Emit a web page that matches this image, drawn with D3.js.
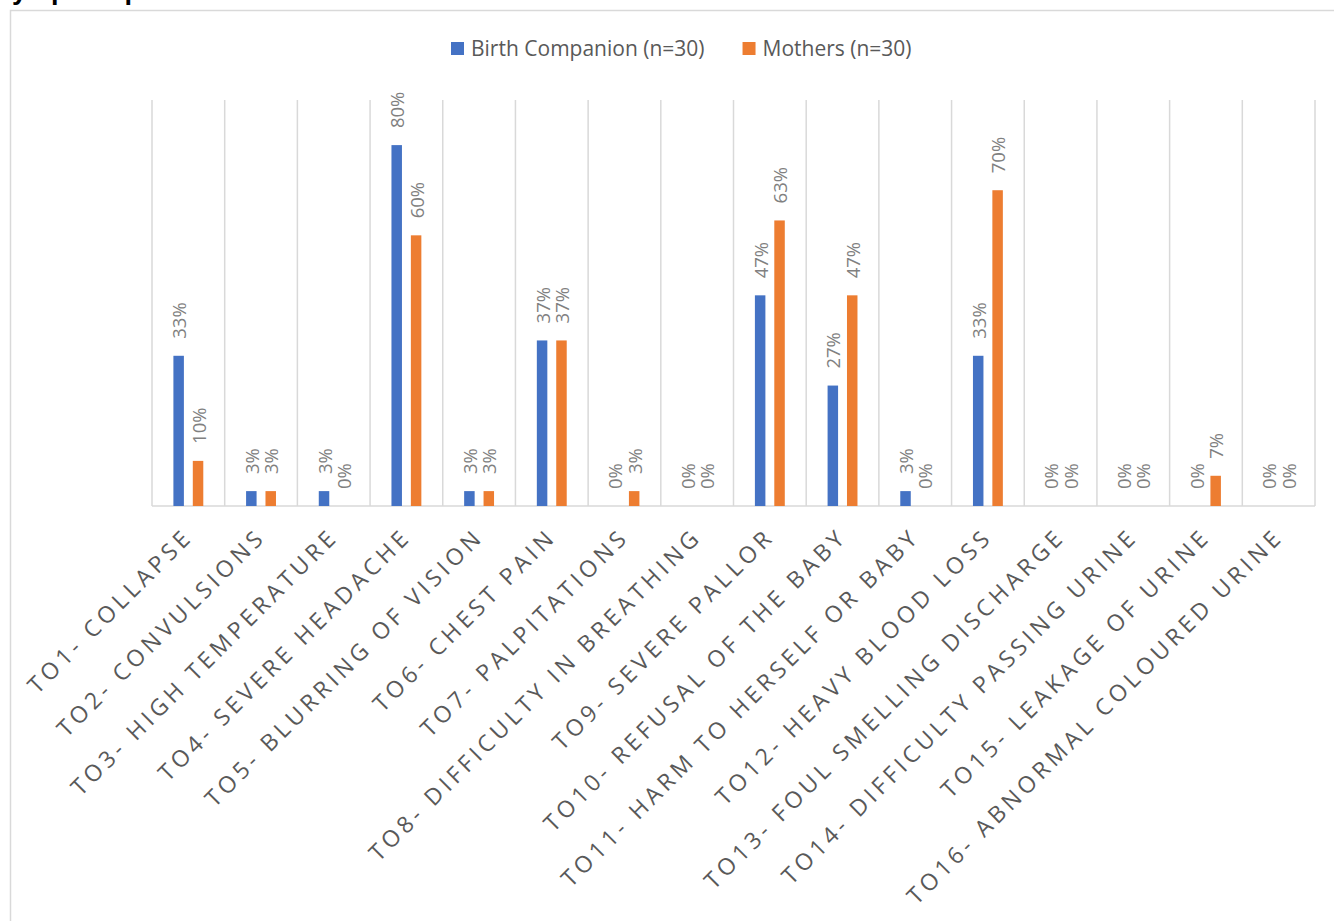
<!DOCTYPE html>
<html>
<head>
<meta charset="utf-8">
<script src="https://cdn.jsdelivr.net/npm/d3@7"></script>
<style>
  html, body { margin: 0; padding: 0; background: #fff; }
  svg { display: block; }
</style>
</head>
<body>
<svg id="chart" width="1334" height="921"></svg>
<script>
const categories = [
  "TO1- COLLAPSE",
  "TO2- CONVULSIONS",
  "TO3- HIGH TEMPERATURE",
  "TO4- SEVERE HEADACHE",
  "TO5- BLURRING OF VISION",
  "TO6- CHEST PAIN",
  "TO7- PALPITATIONS",
  "TO8- DIFFICULTY IN BREATHING",
  "TO9- SEVERE PALLOR",
  "TO10- REFUSAL OF THE BABY",
  "TO11- HARM TO HERSELF OR BABY",
  "TO12- HEAVY BLOOD LOSS",
  "TO13- FOUL SMELLING DISCHARGE",
  "TO14- DIFFICULTY PASSING URINE",
  "TO15- LEAKAGE OF URINE",
  "TO16- ABNORMAL COLOURED URINE"
];
const seriesNames = ["Birth Companion (n=30)", "Mothers (n=30)"];
const birthCompanion = [33.3, 3.3, 3.3, 80, 3.3, 36.7, 0, 0, 46.7, 26.7, 3.3, 33.3, 0, 0, 0, 0];
const mothers        = [10, 3.3, 0, 60, 3.3, 36.7, 3.3, 0, 63.3, 46.7, 0, 70, 0, 0, 6.7, 0];
const seriesColors = ["#4472c4", "#ed7d31"];
const titleText = "Symptom pictures";

const svg = d3.select("#chart");
const plot = { left: 152, right: 1315, top: 100, bottom: 506 };
const gridColor = "#d9d9d9";

// partially visible title at top (cut off by the crop, as in the reference)
svg.append("text")
  .attr("x", -6).attr("y", -1)
  .attr("font-family", "Liberation Sans, Arial, sans-serif")
  .attr("font-weight", "bold").attr("font-size", 27)
  .attr("fill", "#000").text(titleText);

// outer chart border (extends past the page on right/bottom)
svg.append("rect")
  .attr("x", 10.5).attr("y", 10.5).attr("width", 1400).attr("height", 1000)
  .attr("fill", "none").attr("stroke", gridColor).attr("stroke-width", 1.5);

const x0 = d3.scaleBand().domain(categories).range([plot.left, plot.right]).padding(0);
const x1 = d3.scaleBand().domain(seriesNames).range([0, x0.bandwidth()])
  .paddingInner(0.459).paddingOuter(1.103);
const y = d3.scaleLinear().domain([0, 90]).range([plot.bottom, plot.top]);

// vertical gridlines at category boundaries
const bounds = categories.map(c => x0(c)).concat([plot.right]);
svg.append("g").selectAll("line").data(bounds).join("line")
  .attr("x1", d => d).attr("x2", d => d)
  .attr("y1", y(90)).attr("y2", y(0))
  .attr("stroke", gridColor).attr("stroke-width", 1.5);

// axis baseline
svg.append("line")
  .attr("x1", plot.left).attr("x2", plot.right)
  .attr("y1", y(0)).attr("y2", y(0))
  .attr("stroke", gridColor).attr("stroke-width", 1.5);

const data = categories.map((c, i) => ({
  cat: c,
  vals: [
    { s: seriesNames[0], v: birthCompanion[i], color: seriesColors[0] },
    { s: seriesNames[1], v: mothers[i], color: seriesColors[1] }
  ]
}));

const groups = svg.append("g").selectAll("g").data(data).join("g")
  .attr("transform", d => `translate(${x0(d.cat)},0)`);

groups.selectAll("rect").data(d => d.vals).join("rect")
  .attr("x", d => x1(d.s))
  .attr("width", x1.bandwidth())
  .attr("y", d => y(d.v))
  .attr("height", d => y(0) - y(d.v))
  .attr("fill", d => d.color);

groups.selectAll("text").data(d => d.vals).join("text")
  .attr("transform", d => `translate(${x1(d.s) + x1.bandwidth() / 2},${y(d.v) - 17}) rotate(-90)`)
  .attr("text-anchor", "start")
  .attr("dominant-baseline", "central")
  .attr("font-family", "Open Sans, sans-serif")
  .attr("font-size", 18.5)
  .attr("fill", "#808080")
  .text(d => Math.round(d.v) + "%");

// category labels rotated -45
svg.append("g").selectAll("text").data(categories).join("text")
  .attr("transform", d => `translate(${x0(d) + x0.bandwidth() / 2 + 6},${y(0) + 32}) rotate(-45)`)
  .attr("text-anchor", "end")
  .attr("font-family", "Open Sans, sans-serif")
  .attr("font-size", 23)
  .attr("letter-spacing", 4.2)
  .attr("fill", "#595959")
  .text(d => d);

// legend
const legend = svg.append("g");
let lx = 451;
seriesNames.forEach((name, i) => {
  legend.append("rect")
    .attr("x", lx).attr("y", 42).attr("width", 13).attr("height", 13)
    .attr("fill", seriesColors[i]);
  const t = legend.append("text")
    .attr("x", lx + 20).attr("y", 55.5)
    .attr("font-family", "Open Sans, sans-serif")
    .attr("font-size", 21)
    .attr("fill", "#595959")
    .text(name);
  lx = lx + 20 + t.node().getComputedTextLength() + 38;
});
</script>
</body>
</html>
